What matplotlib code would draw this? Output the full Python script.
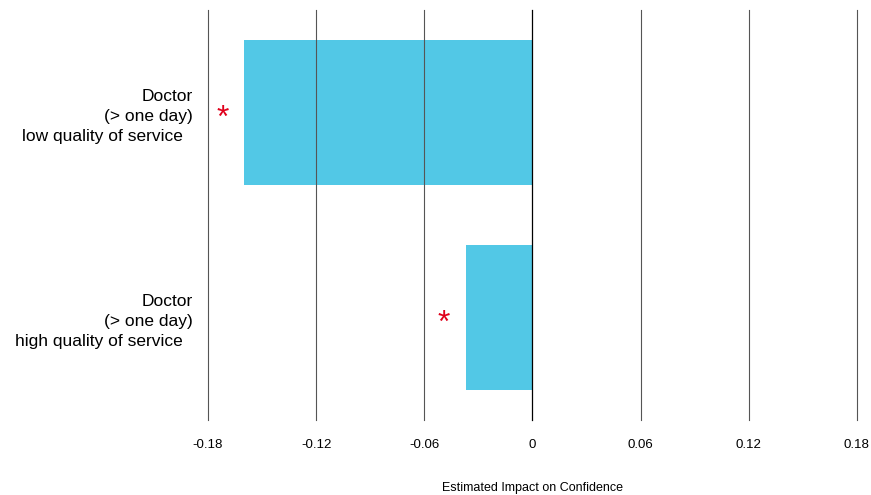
import matplotlib as mpl
mpl.use('Agg')
import matplotlib.pyplot as plt

# data
categories = ["Doctor\n(> one day)\nlow quality of service  ",
              "Doctor\n(> one day)\nhigh quality of service  "]
impacts = [-0.16, -0.037]
significant = [True, True]
xticks = [-0.18, -0.12, -0.06, 0, 0.06, 0.12, 0.18]
xtick_labels = ["-0.18", "-0.12", "-0.06", "0", "0.06", "0.12", "0.18"]

plt.rcParams['font.family'] = ['Liberation Sans', 'DejaVu Sans']

fig = plt.figure(figsize=(8.71, 4.95), dpi=100)
ax = fig.add_axes([0.2388, 0.1515, 0.745, 0.8283])

ypos = list(range(len(categories)))
ax.barh(ypos, impacts, height=0.71, color='#52C8E6', zorder=1)

# gridlines at each tick, zero line darker
for x in xticks:
    ax.axvline(x, color='black' if x == 0 else '#555555', lw=0.9 if x == 0 else 0.8,
               zorder=2, clip_on=False)

# significance stars just left of bar ends
for y, v, s in zip(ypos, impacts, significant):
    if s:
        ax.text(v - 0.012, y + 0.03, '*', color='#e0001b', fontsize=23,
                ha='center', va='center', zorder=3)

ax.set_xlim(-0.18, 0.18)
ax.set_ylim(len(categories) - 0.5, -0.5)
ax.set_xticks(xticks)
ax.set_xticklabels(xtick_labels, fontsize=9.5)
ax.set_yticks(ypos)
ax.set_yticklabels(categories, fontsize=12.5, ha='right', linespacing=1.4)
ax.tick_params(axis='x', length=0, pad=14)
ax.tick_params(axis='y', length=0, pad=11)
ax.set_xlabel('Estimated Impact on Confidence', fontsize=9, labelpad=22)

for sp in ax.spines.values():
    sp.set_visible(False)

fig.savefig('out.png', dpi=100)
